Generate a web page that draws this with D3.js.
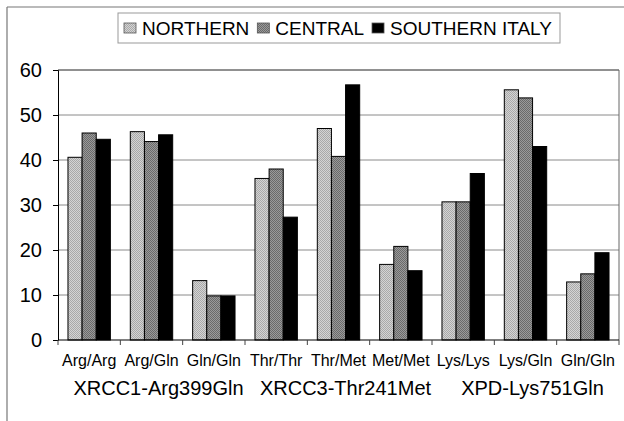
<!DOCTYPE html>
<html>
<head>
<meta charset="utf-8">
<script src="https://cdn.jsdelivr.net/npm/d3@7"></script>
<style>
  body { margin: 0; background: #fff; }
  svg { display: block; font-family: "Liberation Sans", Arial, sans-serif; }
</style>
</head>
<body>
<div id="chart"></div>
<script>
// genotype categories and the three regional series (percent)
var categories = ["Arg/Arg", "Arg/Gln", "Gln/Gln", "Thr/Thr", "Thr/Met", "Met/Met", "Lys/Lys", "Lys/Gln", "Gln/Gln "];
var groups = ["XRCC1-Arg399Gln", "XRCC3-Thr241Met", "XPD-Lys751Gln"];
var seriesNames = ["NORTHERN", "CENTRAL", "SOUTHERN ITALY"];
var northern = [40.6, 46.3, 13.2, 35.9, 47.0, 16.8, 30.7, 55.6, 12.9];
var central  = [46.0, 44.1, 9.8, 38.0, 40.8, 20.8, 30.7, 53.8, 14.7];
var southern = [44.6, 45.6, 9.8, 27.3, 56.7, 15.4, 37.0, 43.0, 19.4];
var yTicks = [0, 10, 20, 30, 40, 50, 60];

var W = 624, H = 421;
var margin = { left: 58, right: 5, top: 70, bottom: 81 };
var width = W - margin.left - margin.right,
    height = H - margin.top - margin.bottom;

var svg = d3.select("#chart").append("svg")
    .attr("width", W)
    .attr("height", H);

// dithered fills like the old print
var defs = svg.append("defs");
function dither(id, a, b) {
    var p = defs.append("pattern")
        .attr("id", id)
        .attr("width", 2).attr("height", 2)
        .attr("patternUnits", "userSpaceOnUse");
    p.append("rect").attr("width", 2).attr("height", 2).attr("fill", a);
    p.append("rect").attr("width", 1).attr("height", 1).attr("fill", b);
    p.append("rect").attr("x", 1).attr("y", 1).attr("width", 1).attr("height", 1).attr("fill", b);
}
dither("patN", "#d4d4d4", "#a9a9a9");
dither("patC", "#9a9a9a", "#6a6a6a");
var fills = ["url(#patN)", "url(#patC)", "#000"];

// outer frame (top and left edges only visible)
svg.append("line").attr("x1", 7).attr("y1", 7).attr("x2", W).attr("y2", 7)
    .attr("stroke", "#777").attr("stroke-width", 1.2);
svg.append("line").attr("x1", 7).attr("y1", 7).attr("x2", 7).attr("y2", H)
    .attr("stroke", "#777").attr("stroke-width", 1.2);

var g = svg.append("g")
    .attr("transform", "translate(" + margin.left + "," + margin.top + ")");

var x = d3.scaleBand()
    .domain(d3.range(categories.length))
    .range([0, width]);

var y = d3.scaleLinear()
    .domain([0, 60])
    .range([height, 0]);

var groupW = x.bandwidth() * 0.68;
var xs = d3.scaleBand()
    .domain(d3.range(seriesNames.length))
    .range([0, groupW]);

// gridlines
g.append("g").selectAll("line")
    .data(yTicks.filter(function(d){ return d > 0; }))
    .enter().append("line")
    .attr("x1", 0).attr("x2", width)
    .attr("y1", function(d){ return y(d); })
    .attr("y2", function(d){ return y(d); })
    .attr("stroke", function(d){ return d == 60 ? "#222" : "#8a8a8a"; })
    .attr("stroke-width", 1);

// right border of plot area
g.append("line")
    .attr("x1", width).attr("x2", width)
    .attr("y1", 0).attr("y2", height)
    .attr("stroke", "#666");

// bars
var rows = [northern, central, southern];
rows.forEach(function(vals, si){
    g.append("g").selectAll("rect")
        .data(vals)
        .enter().append("rect")
        .attr("x", function(d, i){ return x(i) + (x.bandwidth() - groupW) / 2 + xs(si); })
        .attr("y", function(d){ return y(d); })
        .attr("width", xs.bandwidth())
        .attr("height", function(d){ return height - y(d); })
        .attr("fill", fills[si])
        .attr("stroke", "#000")
        .attr("stroke-width", 1);
});

// y axis
var yAxis = g.append("g")
    .call(d3.axisLeft(y).tickValues(yTicks).tickSize(5).tickPadding(11).tickFormat(d3.format("d")));
yAxis.select(".domain").attr("stroke", "#000");
yAxis.selectAll(".tick line").attr("stroke", "#000");
yAxis.selectAll("text")
    .attr("font-size", "20px")
    .attr("font-family", "Liberation Sans, Arial, sans-serif")
    .attr("fill", "#000");

// x axis: ticks on category boundaries
var xAxis = g.append("g").attr("transform", "translate(0," + height + ")");
xAxis.append("line")
    .attr("x1", 0).attr("x2", width)
    .attr("stroke", "#000").attr("stroke-width", 1.2);
xAxis.selectAll(".bound")
    .data(d3.range(categories.length + 1))
    .enter().append("line")
    .attr("class", "bound")
    .attr("x1", function(d){ return d * x.step(); })
    .attr("x2", function(d){ return d * x.step(); })
    .attr("y1", 0).attr("y2", 5)
    .attr("stroke", "#444");

xAxis.selectAll(".cat")
    .data(categories)
    .enter().append("text")
    .attr("class", "cat")
    .attr("x", function(d, i){ return x(i) + x.bandwidth() / 2; })
    .attr("y", 26)
    .attr("text-anchor", "middle")
    .attr("font-size", "16px")
    .attr("fill", "#000")
    .text(function(d){ return d.trim(); });

xAxis.selectAll(".grp")
    .data(groups)
    .enter().append("text")
    .attr("class", "grp")
    .attr("x", function(d, i){ return x(i * 3 + 1) + x.bandwidth() / 2 + 7; })
    .attr("y", 55)
    .attr("text-anchor", "middle")
    .attr("font-size", "20px")
    .attr("fill", "#000")
    .text(function(d){ return d; });

// legend
var legend = svg.append("g");
legend.append("rect")
    .attr("x", 118).attr("y", 13)
    .attr("width", 442).attr("height", 30)
    .attr("fill", "#fff")
    .attr("stroke", "#999");

var lx = 124;
seriesNames.forEach(function(name, i){
    legend.append("rect")
        .attr("x", lx).attr("y", 23)
        .attr("width", 12).attr("height", 10)
        .attr("fill", fills[i])
        .attr("stroke", "#555")
        .attr("stroke-width", 0.8);
    var t = legend.append("text")
        .attr("x", lx + 18).attr("y", 35)
        .attr("font-size", "19px")
        .attr("fill", "#000")
        .text(name);
    lx = lx + 18 + t.node().getComputedTextLength() + 8;
});
</script>
</body>
</html>
